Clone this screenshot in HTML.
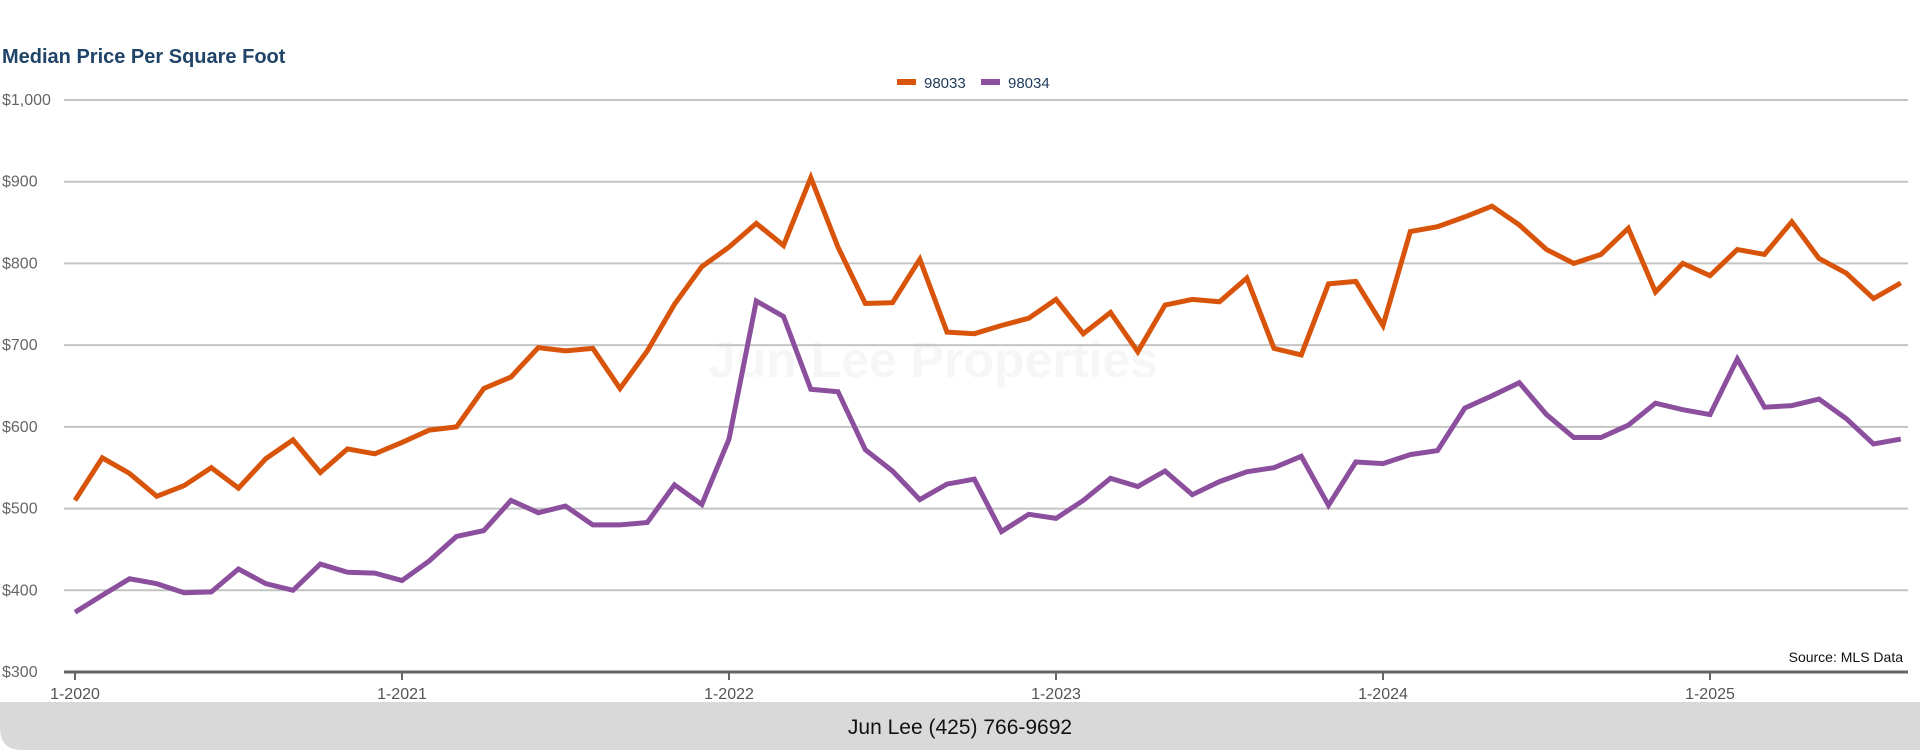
<!DOCTYPE html>
<html><head><meta charset="utf-8"><style>
html,body{margin:0;padding:0;background:#fff;width:1920px;height:750px;overflow:hidden;font-family:"Liberation Sans",Arial,sans-serif;}
svg{display:block}
</style></head><body>
<svg id="chart" width="1920" height="750" xmlns="http://www.w3.org/2000/svg">
<text x="2" y="63" font-size="20" font-weight="bold" fill="#1f4468" font-family="Liberation Sans, Arial, sans-serif">Median Price Per Square Foot</text>
<g>
  <g><rect x="897" y="79" width="19" height="6" fill="#d9540b"/><text x="924" y="88" font-size="15" fill="#1f3a5a">98033</text></g>
  <g><rect x="981" y="79" width="19" height="6" fill="#8b4f9e"/><text x="1008" y="88" font-size="15" fill="#1f3a5a">98034</text></g>
</g>
<text x="933" y="377" font-size="50" font-weight="bold" fill="#f6f6f6" text-anchor="middle">Jun Lee Properties</text>
<g id="grid"></g>
<g id="yaxis"></g>
<g id="xaxis"></g>
<g id="lines"></g>
<text x="1903" y="662" font-size="14" fill="#111" text-anchor="end">Source: MLS Data</text>
<path d="M0,702 H1920 V750 H22 Q0,750 0,728 Z" fill="#d9d9d9"/>
<text x="960" y="734" font-size="21" fill="#111" text-anchor="middle">Jun Lee (425) 766-9692</text>
</svg>
<script>
const yTicks = [300,400,500,600,700,800,900,1000];
const xTickLabels = ["1-2020","1-2021","1-2022","1-2023","1-2024","1-2025"];
const series98033 = [510,562,543,515,528,550,525,561,584,544,573,567,
581,596,600,647,661,697,693,696,647,693,750,796,
820,849,822,905,820,751,752,805,716,714,724,733,
756,714,740,692,749,756,753,782,696,688,775,778,
724,839,845,857,870,847,817,800,811,843,765,800,
785,817,811,851,806,788,757,776];
const series98034 = [373,394,414,408,397,398,426,408,400,432,422,421,
412,436,466,473,510,495,503,480,480,483,529,505,
585,754,735,646,643,572,546,511,530,536,472,493,
488,510,537,527,546,517,533,545,550,564,504,557,
555,566,571,623,638,654,615,587,587,602,629,621,
615,683,624,626,634,610,579,585];
const NS="http://www.w3.org/2000/svg";
const yScale = v => 672 - (v-300)*(572/700);
const xScale = i => 75 + i*(327/12);
function mk(tag, attrs, parent){const e=document.createElementNS(NS,tag);for(const k in attrs)e.setAttribute(k,attrs[k]);parent.appendChild(e);return e;}
const grid=document.getElementById('grid'), ya=document.getElementById('yaxis'), xa=document.getElementById('xaxis'), lg=document.getElementById('lines');
yTicks.forEach(v=>{
  const y=yScale(v);
  if(v>300){const l=mk('line',{x1:64,x2:1908,y1:y,y2:y,stroke:'#c4c4c4','stroke-width':2},grid);
  
  }
  const t=mk('text',{x:2,y:y+5,'font-size':16,fill:'#666'},ya);
  
  
  t.textContent='$'+v.toLocaleString('en-US');
});
const ax=mk('line',{x1:64,x2:1908,y1:672,y2:672,stroke:'#666','stroke-width':3},xa);


xTickLabels.forEach((s,k)=>{
  const x=xScale(k*12);
  const tk=mk('line',{x1:x,x2:x,y1:672,y2:680,stroke:'#666','stroke-width':2},xa);
  
  
  const t=mk('text',{x:x,y:699,'font-size':16,fill:'#555','text-anchor':'middle'},xa);
  
  
  t.textContent=s;
});
function drawLine(data,color,name){
  const d=data.map((v,i)=>(i?'L':'M')+xScale(i).toFixed(1)+','+yScale(v).toFixed(1)).join(' ');
  const p=mk('path',{d:d,fill:'none',stroke:color,'stroke-width':5,'stroke-linejoin':'miter','stroke-linecap':'butt'},lg);
  
  
}
drawLine(series98034,'#8b4f9e','line-98034');
drawLine(series98033,'#d9540b','line-98033');
</script>
</body></html>
